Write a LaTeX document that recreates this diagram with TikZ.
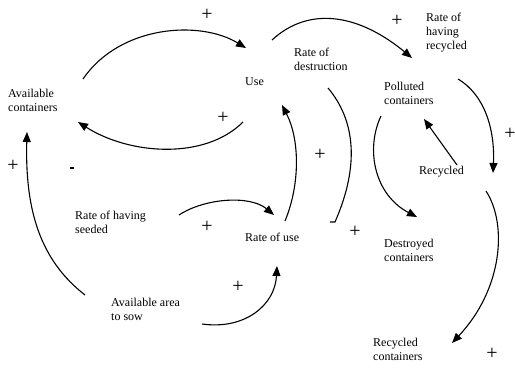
\documentclass[tikz,border=0pt]{standalone}
\usepackage{fontspec}
\setmainfont{Liberation Serif}
\usetikzlibrary{arrows.meta}
\tikzset{
  lbl/.style={anchor=west, inner sep=0pt, align=left, font=\fontsize{12}{14}\selectfont},
  sgn/.style={inner sep=0pt, font=\fontsize{20}{20}\selectfont},
  link/.style={line width=1.1pt, -{Triangle[length=10pt,width=8pt]}},
  plain/.style={line width=1.1pt}
}
\begin{document}
\begin{tikzpicture}[x=1pt,y=-1pt]
\useasboundingbox (0,0) rectangle (515,370);
% labels
\node[lbl] (avc) at (8,100) {Available\\containers};
\node[lbl] (use) at (245,82) {Use};
\node[lbl] (rod) at (294,59) {Rate of\\destruction};
\node[lbl] (rhr) at (426,33) {Rate of\\having\\recycled};
\node[lbl] (pol) at (384,93) {Polluted\\containers};
\node[lbl] (rec) at (419,172) {Recycled};
\node[lbl] (rhs) at (75,222) {Rate of having\\seeded};
\node[lbl] (rou) at (245,237) {Rate of use};
\node[lbl] (dst) at (384,250) {Destroyed\\containers};
\node[lbl] (aas) at (111,309) {Available area\\to sow};
\node[lbl] (rcc) at (373,349) {Recycled\\containers};
% signs
\node[sgn] (p1) at (207,15) {+};
\node[sgn] (p2) at (223,118) {+};
\node[sgn] (p3) at (397,21) {+};
\node[sgn] (p4) at (510,134) {+};
\node[sgn] (p5) at (320,155) {+};
\node[sgn] (p6) at (13,166) {+};
\node[sgn] (p7) at (207,227) {+};
\node[sgn] (p8) at (355,232) {+};
\node[sgn] (p9) at (238,287) {+};
\node[sgn] (p10) at (492,354) {+};
\node[inner sep=0pt] (m1) at (72,168) {\rule{5pt}{2.4pt}};
% connector end points
\coordinate (a1s) at (83,79);   \coordinate (a1e) at (246,48);
\coordinate (a2s) at (243,122); \coordinate (a2e) at (78,122);
\coordinate (a3s) at (272,40);  \coordinate (a3e) at (412,58);
\coordinate (a4s) at (458,79);  \coordinate (a4e) at (493,173);
\coordinate (a5s) at (328,88);  \coordinate (a5e) at (335,222);
\coordinate (a5t) at (330,222);
\coordinate (a6s) at (381,116); \coordinate (a6e) at (417,217);
\coordinate (a7s) at (457,165); \coordinate (a7e) at (424,119);
\coordinate (a8s) at (285,221); \coordinate (a8e) at (282,105);
\coordinate (a9s) at (179,215); \coordinate (a9e) at (274,215);
\coordinate (a10s) at (202,324); \coordinate (a10e) at (277,266);
\coordinate (a11s) at (85,295); \coordinate (a11e) at (27,132);
\coordinate (a12s) at (486,191); \coordinate (a12e) at (452,343);
% connectors
\draw[link] (a1s) .. controls (120,25) and (200,20) .. (a1e);
\draw[link] (a2s) .. controls (205,160) and (130,155) .. (a2e);
\draw[link] (a3s) .. controls (310,5) and (360,15) .. (a3e);
\draw[link] (a4s) .. controls (485,95) and (495,130) .. (a4e);
\draw[plain] (a5s) .. controls (355,120) and (360,165) .. (a5e) -- (a5t);
\draw[link] (a6s) .. controls (365,150) and (375,195) .. (a6e);
\draw[link] (a7s) -- (a7e);
\draw[link] (a8s) .. controls (300,185) and (300,140) .. (a8e);
\draw[link] (a9s) .. controls (205,198) and (250,195) .. (a9e);
\draw[link] (a10s) .. controls (245,330) and (275,305) .. (a10e);
\draw[link] (a11s) .. controls (40,260) and (25,210) .. (a11e);
\draw[link] (a12s) .. controls (508,225) and (502,290) .. (a12e);
\end{tikzpicture}
\end{document}
